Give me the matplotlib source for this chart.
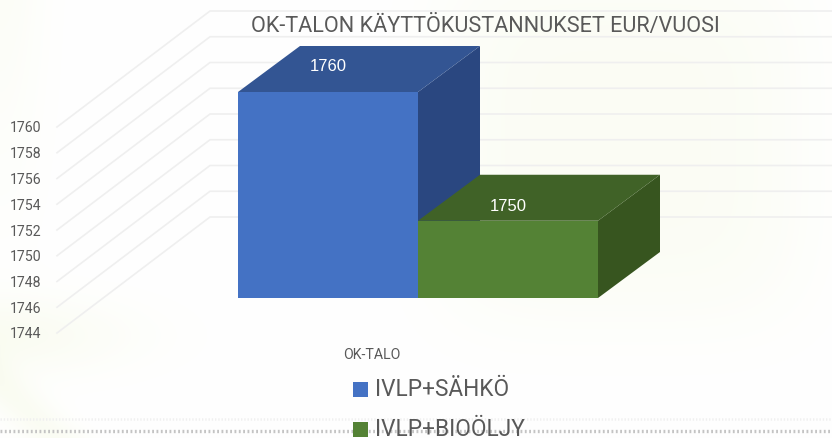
import numpy as np
import matplotlib
matplotlib.use("Agg")
import matplotlib.pyplot as plt
from matplotlib.patches import Polygon, Rectangle

series = ["IVLP+SÄHKÖ", "IVLP+BIOÖLJY"]
values = [1760, 1750]
front_colors = ["#4472C4", "#548235"]
top_colors = ["#335593", "#406227"]
side_colors = ["#2A4780", "#37551F"]
ticks = list(range(1744, 1762, 2))
title = "OK-TALON KÄYTTÖKUSTANNUKSET EUR/VUOSI"
category = "OK-TALO"
label_drop_px = [20, 32]

W, H = 832, 438
FONT = "Roboto"
fig = plt.figure(figsize=(W / 100, H / 100), dpi=100, facecolor="white")
ax = fig.add_axes([0, 0, 1, 1])
ux, uy = 180.0, 12.875
x0_px, y0_px = 238.0, 298.0
ax.set_xlim(-x0_px / ux, (W - x0_px) / ux)
ax.set_ylim(1744 - (H - y0_px) / uy, 1744 + y0_px / uy)
ax.axis("off")

def px(x):
    return (x - x0_px) / ux

def py(y):
    return 1744 + (y0_px - y) / uy

# background: faint yellow wash
yy, xx = np.mgrid[0:H, 0:W]
a = np.zeros((H, W))
a += 0.55 * np.exp(-((xx / 45.0) ** 2)) * np.clip(1 - yy / 320.0, 0, 1)
a += 0.8 * np.exp(-(((yy - 0.95 * xx - 385) / 30.0) ** 2)) * (xx < 190) * (yy > 120)
a += 0.75 * np.exp(-((xx - 620) ** 4 / 190.0 ** 4 + (yy - 140) ** 4 / 190.0 ** 4))
a += 0.9 * np.exp(-((xx / 130.0) ** 2)) * np.exp(-(((yy - 335) / 40.0) ** 2))
a = np.clip(a, 0, 1)
bg = np.ones((H, W, 3))
bg[..., 0] -= a * 0.02
bg[..., 1] -= a * 0.012
bg[..., 2] -= a * 0.055
ax.imshow(bg, extent=[*ax.get_xlim(), *ax.get_ylim()], origin="upper", aspect="auto",
          zorder=0, interpolation="bilinear")

# dotted strip at bottom
ax.plot([px(0), px(W)], [py(431)] * 2, color="#C4C4C4", lw=2.4, ls=(0, (0.55, 0.75)), zorder=1)
ax.plot([px(0), px(W)], [py(419)] * 2, color="#F0F0F0", lw=1.8, ls=(0, (0.55, 0.75)), zorder=1)

ddx, ddy = 62.0 / ux, 46.0 / uy
gx0, gy0 = px(57), -35.0 / uy
gx1, gy1 = px(210), 81.0 / uy
for t in ticks:
    ax.plot([gx0, gx1, px(W)], [t + gy0, t + gy1, t + gy1],
            color="#EFEFEF", lw=1.2, solid_joinstyle="miter", zorder=2)
    ax.text(px(10), t + gy0 - 1.5 / uy, str(t), fontsize=10.2, family=FONT, color="#595959",
            ha="left", va="center", zorder=6)

for i, (val, fc, tc, sc, drop) in enumerate(zip(values, front_colors, top_colors, side_colors, label_drop_px)):
    base = 1744
    ax.add_patch(Polygon([(i + 1, base), (i + 1 + ddx, base + ddy),
                          (i + 1 + ddx, val + ddy), (i + 1, val)],
                         fc=sc, ec="none", zorder=3 + i))
    ax.add_patch(Polygon([(i, val), (i + ddx, val + ddy),
                          (i + 1 + ddx, val + ddy), (i + 1, val)],
                         fc=tc, ec="none", zorder=3 + i))
    ax.add_patch(Rectangle((i, base), 1, val - base, fc=fc, ec="none", zorder=3 + i))
    ax.text(i + 0.5, val + ddy - drop / uy, str(val), color="white", fontsize=12.0,
            family="Liberation Sans", ha="center", va="center", zorder=6)

ax.text(px(485.5), py(26), title, fontsize=15.6, family=FONT,
        color="#595959", ha="center", va="center", zorder=7)
ax.text(px(372), py(355), category, fontsize=10.2, family=FONT,
        color="#595959", ha="center", va="center", zorder=7)

for s, c, y in zip(series, front_colors, [389.5, 429.5]):
    ax.add_patch(Rectangle((px(353), py(y + 7.5)), 15 / ux, 15 / uy, fc=c, ec="none", zorder=7))
    ax.text(px(375), py(y), s, fontsize=16.3, family=FONT,
            color="#595959", ha="left", va="center", zorder=7)

fig.savefig("out.png", dpi=100)
